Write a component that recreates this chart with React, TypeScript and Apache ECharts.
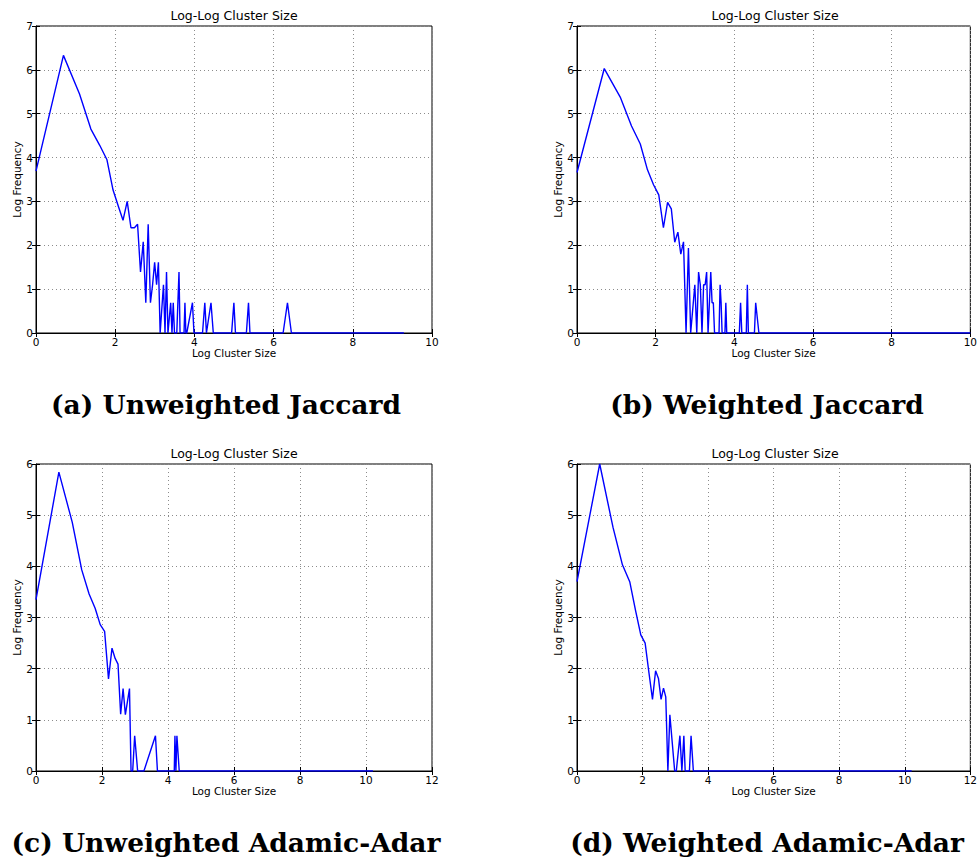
import React, { useEffect, useRef } from 'react';
import * as echarts from 'echarts';

// (log cluster size, log frequency) pairs for each clustering variant
const unweightedJaccard: [number, number][] = [
  [0, 3.69], [0.693, 6.33], [1.099, 5.45], [1.386, 4.65], [1.609, 4.28], [1.792, 3.95],
  [1.946, 3.26], [2.079, 2.89], [2.197, 2.57], [2.303, 3.0], [2.398, 2.4], [2.485, 2.4],
  [2.565, 2.48], [2.639, 1.39], [2.708, 2.08], [2.773, 0.69], [2.833, 2.48], [2.89, 0.69],
  [2.944, 1.1], [2.996, 1.61], [3.045, 1.1], [3.091, 1.61], [3.135, 0], [3.219, 1.1],
  [3.258, 0], [3.296, 1.39], [3.332, 0], [3.401, 0.69], [3.434, 0], [3.466, 0.69],
  [3.497, 0], [3.555, 0], [3.611, 1.39], [3.638, 0], [3.738, 0], [3.761, 0.69],
  [3.784, 0], [3.807, 0], [3.951, 0.69], [3.989, 0], [4.205, 0], [4.263, 0.69],
  [4.304, 0], [4.419, 0.69], [4.477, 0], [4.94, 0], [4.997, 0.69], [5.037, 0],
  [5.313, 0], [5.366, 0.69], [5.403, 0], [6.24, 0], [6.35, 0.69], [6.45, 0], [9.29, 0],
];

const weightedJaccard: [number, number][] = [
  [0, 3.66], [0.693, 6.03], [1.099, 5.38], [1.386, 4.72], [1.609, 4.31], [1.792, 3.72],
  [1.946, 3.38], [2.079, 3.15], [2.197, 2.4], [2.303, 2.98], [2.398, 2.83], [2.485, 2.07],
  [2.565, 2.3], [2.639, 1.8], [2.708, 2.08], [2.773, 0], [2.833, 1.94], [2.89, 0],
  [2.996, 1.1], [3.045, 0], [3.091, 1.39], [3.135, 1.1], [3.178, 0], [3.219, 1.1],
  [3.258, 1.1], [3.296, 1.39], [3.332, 0], [3.401, 1.39], [3.434, 0.69], [3.466, 0.69],
  [3.497, 0], [3.611, 0], [3.638, 1.1], [3.664, 0.69], [3.689, 0], [3.761, 0],
  [3.784, 0.69], [3.807, 0], [4.127, 0], [4.159, 0.69], [4.19, 0], [4.304, 0],
  [4.331, 1.1], [4.357, 0], [4.511, 0], [4.543, 0.69], [4.625, 0], [10, 0],
];

const unweightedAdamicAdar: [number, number][] = [
  [0, 3.35], [0.693, 5.84], [1.099, 4.86], [1.386, 3.93], [1.609, 3.46], [1.792, 3.18],
  [1.946, 2.86], [2.079, 2.73], [2.197, 1.8], [2.303, 2.4], [2.398, 2.2], [2.485, 2.09],
  [2.565, 1.11], [2.639, 1.61], [2.708, 1.1], [2.833, 1.61], [2.88, 0], [2.93, 0],
  [2.99, 0.69], [3.08, 0], [3.27, 0], [3.62, 0.69], [3.68, 0], [4.19, 0], [4.21, 0.69],
  [4.24, 0], [4.27, 0.69], [4.34, 0], [10.21, 0],
];

const weightedAdamicAdar: [number, number][] = [
  [0, 3.7], [0.693, 6.0], [1.099, 4.76], [1.386, 4.03], [1.609, 3.7], [1.792, 3.12],
  [1.946, 2.66], [2.079, 2.5], [2.197, 1.91], [2.303, 1.4], [2.398, 1.96], [2.485, 1.81],
  [2.565, 1.4], [2.639, 1.62], [2.708, 1.45], [2.773, 0], [2.833, 1.1], [2.98, 0],
  [3.03, 0], [3.14, 0.69], [3.2, 0], [3.26, 0.69], [3.3, 0], [3.43, 0], [3.48, 0.69],
  [3.55, 0], [10.21, 0],
];

const panelData = [unweightedJaccard, weightedJaccard, unweightedAdamicAdar, weightedAdamicAdar];
const captions = [
  '(a) Unweighted Jaccard',
  '(b) Weighted Jaccard',
  '(c) Unweighted Adamic-Adar',
  '(d) Weighted Adamic-Adar',
];
const xMaxes = [10, 10, 12, 12];
const yMaxes = [7, 7, 6, 6];
const xStep = 2;
const yStep = 1;
const panelTitle = 'Log-Log Cluster Size';
const xName = 'Log Cluster Size';
const yName = 'Log Frequency';

// plot-area placement of the four panels
const PLOT_W = 396;
const PLOT_H = 307;
const boxes = [
  { left: 36, top: 26 },
  { left: 577, top: 26 },
  { left: 36, top: 464 },
  { left: 577, top: 464 },
];

const SANS = 'DejaVu Sans';
const SERIF = 'DejaVu Serif';
const gridLine = { show: true, lineStyle: { color: '#8c8c8c', width: 1, type: [1, 3] as any } };
const tickStyle = { show: true, inside: true, length: 4, lineStyle: { color: '#000', width: 1 } };

export default function App() {
  const ref = useRef<HTMLDivElement>(null);

  useEffect(() => {
    if (!ref.current) return;
    const chart = echarts.init(ref.current, undefined, { renderer: 'svg' });

    const grid: any[] = [];
    const xAxis: any[] = [];
    const yAxis: any[] = [];
    const series: any[] = [];
    const graphic: any[] = [];

    boxes.forEach((b, i) => {
      grid.push({
        left: b.left, top: b.top, width: PLOT_W, height: PLOT_H,
        show: true, borderColor: '#000', borderWidth: 1, backgroundColor: '#fff',
      });
      const cx = b.left + PLOT_W / 2;
      // bottom axis with labels
      xAxis.push({
        type: 'value', gridIndex: i, position: 'bottom', min: 0, max: xMaxes[i], interval: xStep,
        axisLine: { show: true, onZero: false, lineStyle: { color: '#000', width: 1 } },
        axisTick: tickStyle,
        axisLabel: { color: '#000', fontFamily: SANS, fontSize: 10.5, margin: 3 },
        splitLine: gridLine,
        name: xName, nameLocation: 'middle', nameGap: 14,
        nameTextStyle: { color: '#000', fontFamily: SANS, fontSize: 10.5 },
      });
      // top axis carrying the mirrored ticks
      xAxis.push({
        type: 'value', gridIndex: i, position: 'top', min: 0, max: xMaxes[i], interval: xStep,
        axisLine: { show: false }, axisTick: tickStyle,
        axisLabel: { show: false }, splitLine: { show: false },
      });
      yAxis.push({
        type: 'value', gridIndex: i, position: 'left', min: 0, max: yMaxes[i], interval: yStep,
        axisLine: { show: true, onZero: false, lineStyle: { color: '#000', width: 1 } },
        axisTick: tickStyle,
        axisLabel: { color: '#000', fontFamily: SANS, fontSize: 10.5, margin: 3 },
        splitLine: gridLine,
        name: yName, nameLocation: 'middle', nameGap: 14, nameRotate: 90,
        nameTextStyle: { color: '#000', fontFamily: SANS, fontSize: 10.5 },
      });
      yAxis.push({
        type: 'value', gridIndex: i, position: 'right', min: 0, max: yMaxes[i], interval: yStep,
        axisLine: { show: false }, axisTick: tickStyle,
        axisLabel: { show: false }, splitLine: { show: false },
      });
      series.push({
        type: 'line', xAxisIndex: i * 2, yAxisIndex: i * 2, data: panelData[i],
        showSymbol: false, symbol: 'none', z: 5,
        lineStyle: { color: '#0000ff', width: 1.4 },
      });
      graphic.push({
        type: 'text', x: cx, y: b.top - 11,
        style: {
          text: panelTitle, fill: '#000', font: `12.5px "${SANS}"`,
          textAlign: 'center', textVerticalAlign: 'middle',
        },
      });
      graphic.push({
        type: 'text', x: cx - 8, y: b.top + PLOT_H + 71,
        style: {
          text: captions[i], fill: '#000', font: `bold 26.5px "${SERIF}"`,
          textAlign: 'center', textVerticalAlign: 'middle',
        },
      });
    });

    chart.setOption({
      animation: false,
      backgroundColor: '#fff',
      grid, xAxis, yAxis, series, graphic,
    });
    return () => chart.dispose();
  }, []);

  return (
    <div
      ref={ref}
      style={{ position: 'fixed', left: 0, top: 0, width: 980, height: 859, background: '#fff' }}
    />
  );
}
